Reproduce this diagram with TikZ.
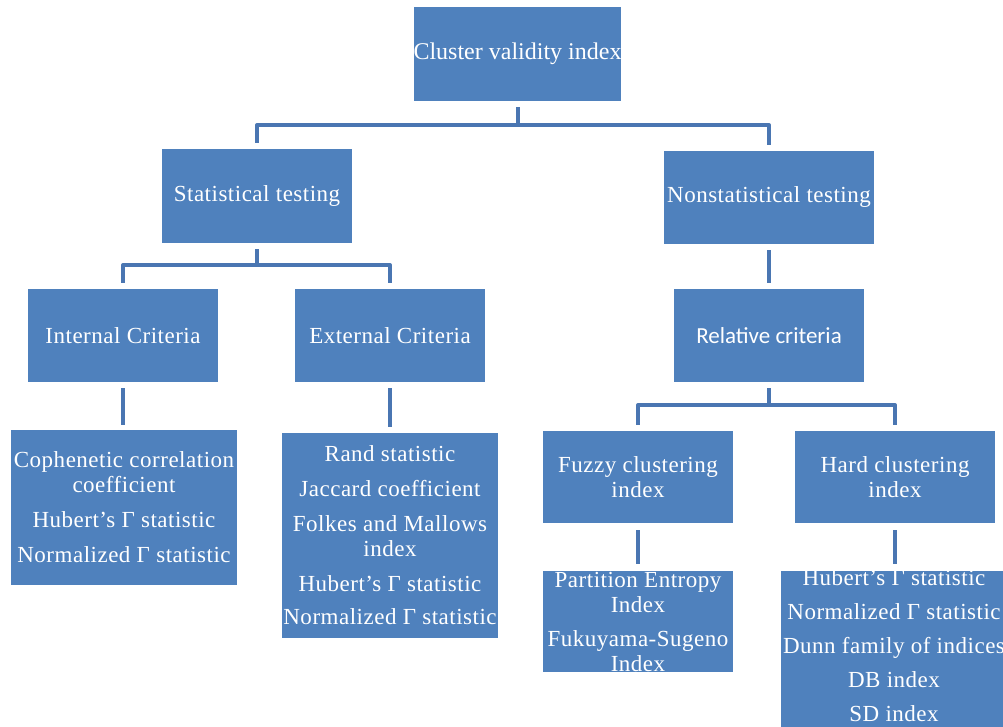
\documentclass[tikz,border=0pt]{standalone}
\usepackage{fontspec}
\usetikzlibrary{calc}
\setmainfont{Liberation Serif}
\newfontfamily\boxfont{Liberation Serif}[LetterSpace=2.2]
\newfontfamily\rootfont{Liberation Serif}
\newfontfamily\relfont{Carlito}
\definecolor{boxblue}{HTML}{4F81BD}
\definecolor{linkblue}{HTML}{4A76B2}
\tikzset{
  box/.style={fill=boxblue, draw=none, inner sep=0pt},
  txt/.style={text=white, align=center, inner sep=0pt,
    font=\boxfont\fontsize{23}{25}\selectfont},
  roottxt/.style={txt, font=\rootfont\fontsize{24}{27}\selectfont},
  reltxt/.style={txt, font=\relfont\fontsize{23}{26}\selectfont},
  conn/.style={draw=linkblue, line width=4pt, line join=round, line cap=butt},
}
\begin{document}
\begin{tikzpicture}[x=1pt,y=-1pt]
\useasboundingbox (0,0) rectangle (1003,727);
\clip (0,0) rectangle (1003,727);

% ---- boxes ----
\node[box, minimum width=207pt, minimum height=94pt]  (root)      at (517.5,54)   {};
\node[box, minimum width=190pt, minimum height=94pt]  (stat)      at (257,196)    {};
\node[box, minimum width=210pt, minimum height=93pt]  (nonstat)   at (769,197.5)  {};
\node[box, minimum width=190pt, minimum height=93pt]  (internal)  at (123,335.5)  {};
\node[box, minimum width=190pt, minimum height=93pt]  (external)  at (390,335.5)  {};
\node[box, minimum width=190pt, minimum height=93pt]  (relative)  at (769,335.5)  {};
\node[box, minimum width=226pt, minimum height=155pt] (coph)      at (124,507.5)  {};
\node[box, minimum width=216pt, minimum height=205pt] (rand)      at (390,535.5)  {};
\node[box, minimum width=190pt, minimum height=92pt]  (fuzzy)     at (638,477)    {};
\node[box, minimum width=200pt, minimum height=92pt]  (hard)      at (895,477)    {};
\node[box, minimum width=190pt, minimum height=101pt] (partition) at (638,621.5)  {};
\node[box, minimum width=226pt, minimum height=156pt] (hardleaf)  at (894,649)    {};

% ---- labels ----
\node[roottxt] (root-t)     at (root)     {Cluster validity index};
\node[txt]     (stat-t)     at (stat)     {Statistical testing};
\node[txt]     (nonstat-t)  at (nonstat)  {Nonstatistical testing};
\node[txt]     (internal-t) at (internal) {Internal Criteria};
\node[txt]     (external-t) at (external) {External Criteria};
\node[reltxt]  (relative-t) at (relative) {Relative criteria};
\node[txt]     (coph-t)     at (coph)
  {Cophenetic correlation\\ coefficient\\[10pt] Hubert’s Γ statistic\\[10pt] Normalized Γ statistic};
\node[txt]     (rand-t)     at (rand)
  {Rand statistic\\[10pt] Jaccard coefficient\\[10pt] Folkes and Mallows\\ index\\[10pt]
   Hubert’s Γ statistic\\[8pt] Normalized Γ statistic};
\node[txt]     (fuzzy-t)    at (fuzzy)    {Fuzzy clustering\\ index};
\node[txt]     (hard-t)     at (hard)     {Hard clustering\\ index};
\node[txt]     (partition-t) at (partition)
  {Partition Entropy\\ Index\\[9pt] Fukuyama-Sugeno\\ Index};
\node[txt, yshift=3pt] (hardleaf-t) at (hardleaf)
  {Hubert’s Γ statistic\\[9pt] Normalized Γ statistic\\[9pt] Dunn family of indices\\[9pt]
   DB index\\[9pt] SD index};

% ---- connectors ----
\coordinate (busA) at (517.5,125);
\coordinate (busB) at (257,265);
\coordinate (busC) at (769,405);

\draw[conn] ([yshift=-6pt]root.south) -- (busA);
\draw[conn] ([yshift=6pt]stat.north) |- (busA) -| ([yshift=6pt]nonstat.north);

\draw[conn] ([yshift=-6pt]stat.south) -- (busB);
\draw[conn] ([yshift=6pt]internal.north) |- (busB) -| ([yshift=6pt]external.north);

\draw[conn] ([yshift=-6pt]nonstat.south) -- ([yshift=6pt]relative.north);

\draw[conn] ([yshift=-6pt]relative.south) -- (busC);
\draw[conn] ([yshift=6pt]fuzzy.north) |- (busC) -| ([yshift=6pt]hard.north);

\draw[conn] ([yshift=-6pt]internal.south) -- ($(internal.south |- coph.north)+(0,-5)$);
\draw[conn] ([yshift=-6pt]external.south) -- ($(external.south |- rand.north)+(0,-6)$);
\draw[conn] ([yshift=-7pt]fuzzy.south) -- ($(fuzzy.south |- partition.north)+(0,-7)$);
\draw[conn] ([yshift=-7pt]hard.south) -- ($(hard.south |- hardleaf.north)+(0,-7)$);
\end{tikzpicture}
\end{document}
